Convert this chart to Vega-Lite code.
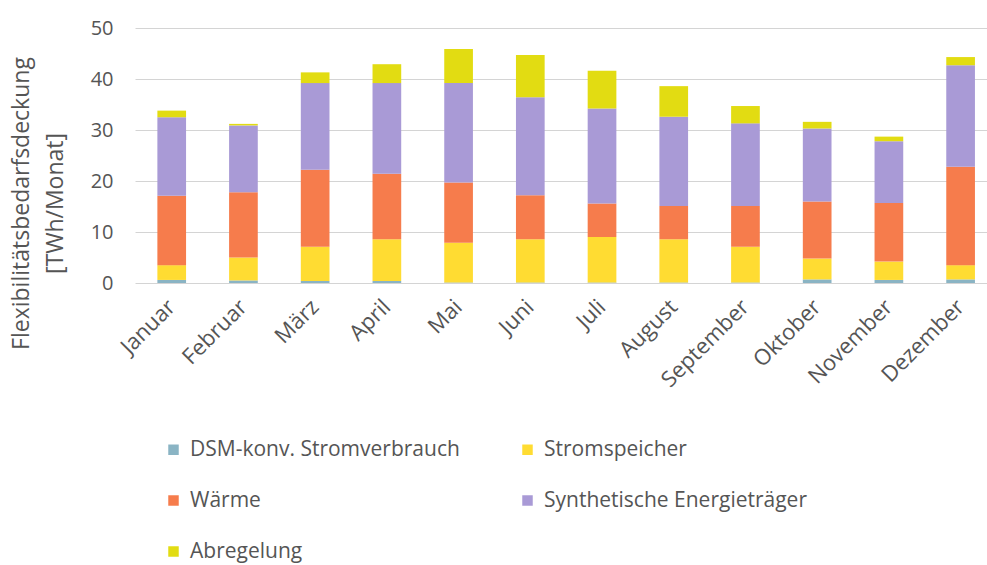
{
  "$schema": "https://vega.github.io/schema/vega-lite/v6.json",
  "width": 852,
  "height": 255,
  "autosize": {"type": "none"},
  "padding": {"left": 135, "top": 28, "right": 0, "bottom": 282},
  "background": "white",
  "config": {
    "font": "Open Sans",
    "view": {"stroke": null},
    "axis": {"labelColor": "#555555", "titleColor": "#555555", "labelFont": "Open Sans", "titleFont": "Open Sans"}
  },
  "data": {
    "values": [
      {"Monat": "Januar", "Kategorie": "DSM-konv. Stromverbrauch", "Wert": 0.6},
      {"Monat": "Januar", "Kategorie": "Stromspeicher", "Wert": 2.9},
      {"Monat": "Januar", "Kategorie": "Wärme", "Wert": 13.6},
      {"Monat": "Januar", "Kategorie": "Synthetische Energieträger", "Wert": 15.4},
      {"Monat": "Januar", "Kategorie": "Abregelung", "Wert": 1.3},
      {"Monat": "Februar", "Kategorie": "DSM-konv. Stromverbrauch", "Wert": 0.5},
      {"Monat": "Februar", "Kategorie": "Stromspeicher", "Wert": 4.5},
      {"Monat": "Februar", "Kategorie": "Wärme", "Wert": 12.8},
      {"Monat": "Februar", "Kategorie": "Synthetische Energieträger", "Wert": 13.1},
      {"Monat": "Februar", "Kategorie": "Abregelung", "Wert": 0.3},
      {"Monat": "März", "Kategorie": "DSM-konv. Stromverbrauch", "Wert": 0.4},
      {"Monat": "März", "Kategorie": "Stromspeicher", "Wert": 6.7},
      {"Monat": "März", "Kategorie": "Wärme", "Wert": 15.1},
      {"Monat": "März", "Kategorie": "Synthetische Energieträger", "Wert": 17.0},
      {"Monat": "März", "Kategorie": "Abregelung", "Wert": 2.1},
      {"Monat": "April", "Kategorie": "DSM-konv. Stromverbrauch", "Wert": 0.4},
      {"Monat": "April", "Kategorie": "Stromspeicher", "Wert": 8.2},
      {"Monat": "April", "Kategorie": "Wärme", "Wert": 12.8},
      {"Monat": "April", "Kategorie": "Synthetische Energieträger", "Wert": 17.8},
      {"Monat": "April", "Kategorie": "Abregelung", "Wert": 3.7},
      {"Monat": "Mai", "Kategorie": "DSM-konv. Stromverbrauch", "Wert": 0.1},
      {"Monat": "Mai", "Kategorie": "Stromspeicher", "Wert": 7.8},
      {"Monat": "Mai", "Kategorie": "Wärme", "Wert": 11.8},
      {"Monat": "Mai", "Kategorie": "Synthetische Energieträger", "Wert": 19.5},
      {"Monat": "Mai", "Kategorie": "Abregelung", "Wert": 6.7},
      {"Monat": "Juni", "Kategorie": "DSM-konv. Stromverbrauch", "Wert": 0.1},
      {"Monat": "Juni", "Kategorie": "Stromspeicher", "Wert": 8.5},
      {"Monat": "Juni", "Kategorie": "Wärme", "Wert": 8.6},
      {"Monat": "Juni", "Kategorie": "Synthetische Energieträger", "Wert": 19.2},
      {"Monat": "Juni", "Kategorie": "Abregelung", "Wert": 8.3},
      {"Monat": "Juli", "Kategorie": "DSM-konv. Stromverbrauch", "Wert": 0.1},
      {"Monat": "Juli", "Kategorie": "Stromspeicher", "Wert": 8.9},
      {"Monat": "Juli", "Kategorie": "Wärme", "Wert": 6.6},
      {"Monat": "Juli", "Kategorie": "Synthetische Energieträger", "Wert": 18.6},
      {"Monat": "Juli", "Kategorie": "Abregelung", "Wert": 7.4},
      {"Monat": "August", "Kategorie": "DSM-konv. Stromverbrauch", "Wert": 0.1},
      {"Monat": "August", "Kategorie": "Stromspeicher", "Wert": 8.5},
      {"Monat": "August", "Kategorie": "Wärme", "Wert": 6.5},
      {"Monat": "August", "Kategorie": "Synthetische Energieträger", "Wert": 17.5},
      {"Monat": "August", "Kategorie": "Abregelung", "Wert": 6.0},
      {"Monat": "September", "Kategorie": "DSM-konv. Stromverbrauch", "Wert": 0.1},
      {"Monat": "September", "Kategorie": "Stromspeicher", "Wert": 7.0},
      {"Monat": "September", "Kategorie": "Wärme", "Wert": 8.0},
      {"Monat": "September", "Kategorie": "Synthetische Energieträger", "Wert": 16.2},
      {"Monat": "September", "Kategorie": "Abregelung", "Wert": 3.4},
      {"Monat": "Oktober", "Kategorie": "DSM-konv. Stromverbrauch", "Wert": 0.7},
      {"Monat": "Oktober", "Kategorie": "Stromspeicher", "Wert": 4.1},
      {"Monat": "Oktober", "Kategorie": "Wärme", "Wert": 11.2},
      {"Monat": "Oktober", "Kategorie": "Synthetische Energieträger", "Wert": 14.3},
      {"Monat": "Oktober", "Kategorie": "Abregelung", "Wert": 1.3},
      {"Monat": "November", "Kategorie": "DSM-konv. Stromverbrauch", "Wert": 0.6},
      {"Monat": "November", "Kategorie": "Stromspeicher", "Wert": 3.6},
      {"Monat": "November", "Kategorie": "Wärme", "Wert": 11.5},
      {"Monat": "November", "Kategorie": "Synthetische Energieträger", "Wert": 12.1},
      {"Monat": "November", "Kategorie": "Abregelung", "Wert": 0.9},
      {"Monat": "Dezember", "Kategorie": "DSM-konv. Stromverbrauch", "Wert": 0.7},
      {"Monat": "Dezember", "Kategorie": "Stromspeicher", "Wert": 2.8},
      {"Monat": "Dezember", "Kategorie": "Wärme", "Wert": 19.3},
      {"Monat": "Dezember", "Kategorie": "Synthetische Energieträger", "Wert": 19.9},
      {"Monat": "Dezember", "Kategorie": "Abregelung", "Wert": 1.6}
    ]
  },
  "transform": [
    {"calculate": "indexof(['DSM-konv. Stromverbrauch', 'Stromspeicher', 'Wärme', 'Synthetische Energieträger', 'Abregelung'], datum.Kategorie)", "as": "Stapel"}
  ],
  "mark": {"type": "bar"},
  "encoding": {
    "x": {
      "field": "Monat",
      "type": "nominal",
      "sort": null,
      "scale": {"paddingInner": 0.6, "paddingOuter": 0.24, "align": 0.65},
      "axis": {
        "title": null,
        "labelAngle": -45,
        "labelFontSize": 22,
        "labelAlign": "right",
        "labelBaseline": "middle",
        "labelPadding": 20,
        "labelDy": 8,
        "ticks": false,
        "domain": false
      }
    },
    "y": {
      "field": "Wert",
      "type": "quantitative",
      "stack": "zero",
      "scale": {"domain": [0, 50], "nice": false},
      "axis": {
        "title": ["Flexibilitätsbedarfsdeckung", "[TWh/Monat]"],
        "titleFontSize": 23,
        "titleFontWeight": "normal",
        "titleLineHeight": 34,
        "titleAngle": -90,
        "titleAlign": "center",
        "titleBaseline": "bottom",
        "titleX": -102,
        "titleY": 175,
        "labelFontSize": 20,
        "labelPadding": 22,
        "labelOverlap": false,
        "labelFlush": false,
        "values": [0, 10, 20, 30, 40, 50],
        "ticks": false,
        "domain": false,
        "grid": true,
        "gridColor": "#d4d4d4",
        "gridWidth": 1
      }
    },
    "color": {
      "field": "Kategorie",
      "type": "nominal",
      "scale": {
        "domain": ["DSM-konv. Stromverbrauch", "Wärme", "Abregelung", "Stromspeicher", "Synthetische Energieträger"],
        "range": ["#8ab4c4", "#f67c4c", "#e2dc12", "#ffdc32", "#a99ad6"]
      },
      "legend": {
        "title": null,
        "orient": "none",
        "legendX": 28,
        "legendY": 411,
        "columns": 2,
        "columnPadding": 57,
        "rowPadding": 29,
        "symbolType": "square",
        "symbolSize": 110,
        "labelFontSize": 21,
        "labelColor": "#555555",
        "labelFont": "Open Sans",
        "labelLimit": 400,
        "labelOffset": 6
      }
    },
    "order": {"field": "Stapel", "type": "quantitative", "sort": "ascending"}
  }
}
